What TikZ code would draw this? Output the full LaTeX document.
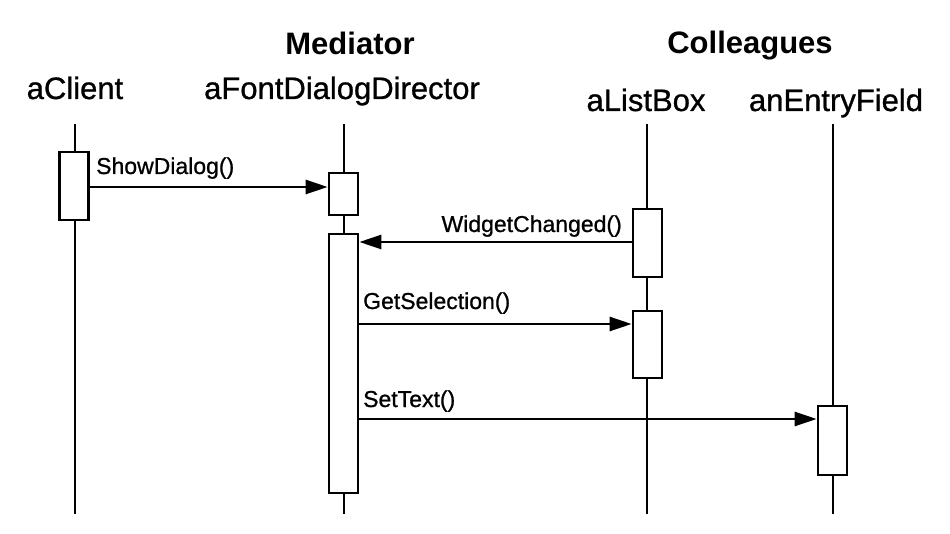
\documentclass[tikz,border=0pt]{standalone}
\usepackage{fontspec}
\setmainfont{Liberation Sans}
\newfontfamily\scanfont{Liberation Sans}[FakeBold=0.9]
\usetikzlibrary{arrows.meta,positioning}

\begin{document}
\begin{tikzpicture}[x=1pt, y=-1pt,
    every node/.style={inner sep=0pt},
    head/.style={font=\scanfont\fontsize{31}{36}\selectfont, anchor=base},
    group/.style={font=\fontsize{31}{36}\selectfont\bfseries, anchor=base},
    msglabel/.style={font=\scanfont\fontsize{23}{28}\selectfont},
    life/.style={line width=2.6pt},
    act/.style={draw, fill=white, line width=2.7pt, minimum width=29pt},
    msg/.style={line width=2.6pt, -{Triangle[length=22pt, width=14pt]}}]
    \useasboundingbox (0,0) rectangle (950,534);

    % group titles and object names
    \node[group] (mediator) at (350,55) {Mediator};
    \node[group] (colleagues) at (750,54) {Colleagues};
    \node[head] (client) at (75,99) {aClient};
    \node[head] (director) at (342,99) {aFontDialogDirector};
    \node[head] (listbox) at (646,111) {aListBox};
    \node[head] (entry) at (836,111) {anEntryField};

    % lifelines
    \foreach \name/\x in {cl/75, dir/344, lb/647, ef/833} {
        \coordinate (\name top) at (\x,124);
        \coordinate (\name bot) at (\x,514);
        \draw[life] (\name top) -- (\name bot);
    }

    % activation boxes
    \node[act, minimum height=68pt] (cli) at (74,186) {};
    \node[act, minimum height=42pt] (dir1) at (343.5,194) {};
    \node[act, minimum height=259pt] (dir2) at (343.5,363.5) {};
    \node[act, minimum height=68pt] (lb1) at (647.5,243) {};
    \node[act, minimum height=67pt] (lb2) at (647.5,344.5) {};
    \node[act, minimum height=69pt] (ef) at (832.5,440.5) {};

    % messages
    \coordinate (m1) at (0,187);
    \coordinate (m2) at (0,242);
    \coordinate (m3) at (0,324);
    \coordinate (m4) at (0,419);
    \draw[msg] (cli.east |- m1) -- (dir1.west |- m1);
    \draw[msg] (lb1.west |- m2) -- (dir2.east |- m2);
    \draw[msg] (dir2.east |- m3) -- (lb2.west |- m3);
    \draw[msg] (dir2.east |- m4) -- (ef.west |- m4);

    \node[msglabel, anchor=base west] (show) at (96,174) {ShowDialog()};
    \node[msglabel, anchor=base east] (changed) at (622,232) {WidgetChanged()};
    \node[msglabel, anchor=base west] (getsel) at (363,309) {GetSelection()};
    \node[msglabel, anchor=base west] (settext) at (363,407) {SetText()};
\end{tikzpicture}
\end{document}
